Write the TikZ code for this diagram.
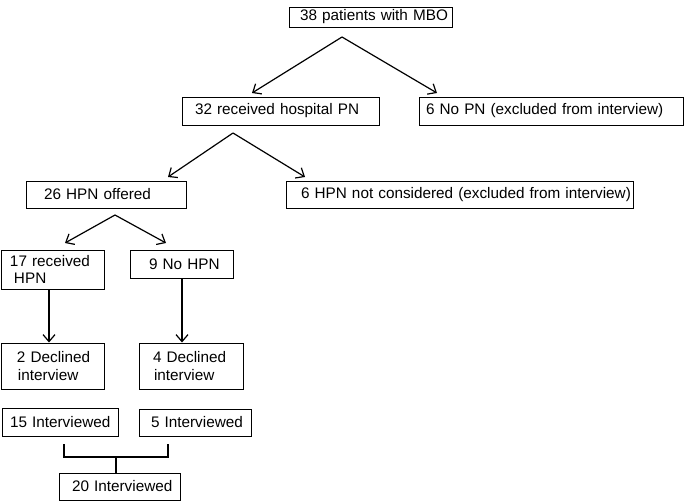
\documentclass[tikz,border=0pt]{standalone}
\usepackage{fontspec}
\setmainfont{Liberation Sans}
\usetikzlibrary{arrows.meta}
\newcommand{\pd}[1]{\hspace*{#1pt}}
\begin{document}
\begin{tikzpicture}[x=1pt,y=-1pt,
  box/.style={draw, line width=1pt, inner sep=0pt, align=left, font=\fontsize{15.3}{17.5}\selectfont},
  arr/.style={line width=1.2pt, -{Straight Barb[length=7pt,width=12pt,line width=1.2pt]}},
  ln/.style={line width=1.2pt}]
\useasboundingbox (0,0) rectangle (685,501);
\node[box, minimum height=20pt, text width=163pt] (b1) at (370.5,17) {\pd{11}38 patients with MBO};
\node[box, minimum height=28pt, text width=197pt] (b2) at (280.5,111) {\pd{13}32 received hospital PN};
\node[box, minimum height=28pt, text width=264pt] (b3) at (551,111) {\pd{7}6 No PN (excluded from interview)};
\node[box, minimum height=27pt, text width=160pt] (b4) at (106,194.5) {\pd{18}26 HPN offered};
\node[box, minimum height=27pt, text width=347pt] (b5) at (459.5,194.5) {\pd{15}6 HPN not considered (excluded from interview)};
\node[box, minimum height=39pt, text width=103pt] (b6) at (52.5,269.5) {\pd{9}17 received\\\pd{13}HPN};
\node[box, minimum height=28pt, text width=103pt] (b7) at (181.5,264) {\pd{19}9 No HPN};
\node[box, minimum height=46pt, text width=103pt] (b8) at (52.5,366) {\pd{16}2 Declined\\\pd{17}interview};
\node[box, minimum height=46pt, text width=104pt] (b9) at (191,366) {\pd{14}4 Declined\\\pd{15}interview};
\node[box, minimum height=28pt, text width=116pt] (b10) at (60,422) {\pd{8}15 Interviewed};
\node[box, minimum height=27pt, text width=112pt] (b11) at (195,422.5) {\pd{12}5 Interviewed};
\node[box, minimum height=27pt, text width=121pt] (b12) at (119.5,486.5) {\pd{13}20 Interviewed};
% arrow coordinates
\coordinate (s1) at (342,37);
\coordinate (t2) at (252,93);
\coordinate (t3) at (437,93);
\coordinate (s2) at (233,133);
\coordinate (t4) at (168,177);
\coordinate (t5) at (305,177);
\coordinate (s4) at (115,215);
\coordinate (t6) at (65,243);
\coordinate (t7) at (166,243);
\draw[arr] (s1) -- (t2);
\draw[arr] (s1) -- (t3);
\draw[arr] (s2) -- (t4);
\draw[arr] (s2) -- (t5);
\draw[arr] (s4) -- (t6);
\draw[arr] (s4) -- (t7);
\draw[arr] (b6.south -| 49,0) -- (b8.north -| 49,0);
\draw[arr] (b7.south -| 182,0) -- (b9.north -| 182,0);
% bracket
\coordinate (bl) at (64,444);
\coordinate (br) at (168,444);
\coordinate (bm) at (116,457);
\draw[ln] (bl) -- (bl |- bm) -- (br |- bm) -- (br);
\draw[ln] (bm) -- (b12.north -| bm);
\end{tikzpicture}
\end{document}
